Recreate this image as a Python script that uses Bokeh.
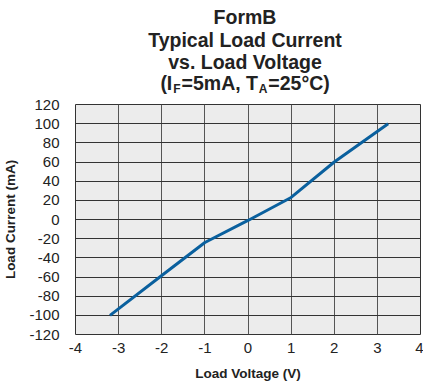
from bokeh.plotting import figure
from bokeh.models import Range1d, FixedTicker
from bokeh.layouts import column
from bokeh.core.properties import value
from bokeh.embed import file_html
from bokeh.resources import INLINE

# Load voltage (V) vs load current (mA)
voltage = [-3.2, -2.0, -1.0, 0.0, 1.0, 2.0, 3.25]
current = [-100, -58.5, -24, -1, 23, 60, 100]

x_ticks = [-4, -3, -2, -1, 0, 1, 2, 3, 4]
y_ticks = [-120, -100, -80, -60, -40, -20, 0, 20, 40, 60, 80, 100, 120]

FONT = "Liberation Sans"
W = 423
LEFT, RIGHT = 74, 3
HEAD_H = 96          # title strip
MAIN_H = 387 - HEAD_H
TITLE_PX = 19.5
SUB_PX = 12

# ---- title strip: a bare figure whose ranges are canvas pixels, y downwards
head = figure(width=W, height=HEAD_H, output_backend="svg", toolbar_location=None,
              x_range=Range1d(LEFT, W - RIGHT), y_range=Range1d(HEAD_H, 0),
              x_axis_location=None, y_axis_location=None,
              min_border_left=LEFT, min_border_right=RIGHT,
              min_border_top=0, min_border_bottom=0,
              outline_line_color=None)
head.grid.visible = False
head.background_fill_color = "white"
head.border_fill_color = "white"

def title_text(text, x, y, size=TITLE_PX, align="center"):
    head.text(x=[x], y=[y], text=[text], text_font=value(FONT),
              text_font_style="bold", text_font_size=f"{size}px",
              text_color="#222222", text_align=align, text_baseline="middle")

cx = 244
title_text("FormB", cx, 16)
title_text("Typical Load Current", cx, 39)
title_text("vs. Load Voltage", cx, 61)

# fourth line: runs of text with subscripts, laid out left to right
# using bold Helvetica/Arial advance widths (per 1000 em)
ADV = {"(": 333, ")": 333, "I": 278, "F": 611, "=": 584, "5": 556, "2": 556,
       "m": 889, "A": 722, ",": 278, " ": 278, "T": 611, "°": 400, "C": 722}
def run_width(s, size):
    return sum(ADV[c] for c in s) * size / 1000.0

runs = [("(I", TITLE_PX, 0), ("F", SUB_PX, 6), ("=5mA, T", TITLE_PX, 0),
        ("A", SUB_PX, 6), ("=25°C)", TITLE_PX, 0)]
gap = 1.0
total = sum(run_width(s, sz) for s, sz, _ in runs) + gap * (len(runs) - 1)
x = cx - total / 2
y4 = 82
for s, sz, dy in runs:
    title_text(s, x, y4 + dy, size=sz, align="left")
    x += run_width(s, sz) + gap

# ---- main chart
p = figure(width=W, height=MAIN_H, output_backend="svg", toolbar_location=None,
           x_range=Range1d(-4, 4), y_range=Range1d(-120, 120),
           min_border_left=LEFT, min_border_right=RIGHT,
           min_border_top=104 - HEAD_H, min_border_bottom=53)

p.border_fill_color = "white"
p.background_fill_color = "#ececec"
p.outline_line_color = "#333333"
p.outline_line_width = 1

p.xaxis.ticker = FixedTicker(ticks=x_ticks)
p.yaxis.ticker = FixedTicker(ticks=y_ticks)
p.xgrid.ticker = FixedTicker(ticks=x_ticks)
p.ygrid.ticker = FixedTicker(ticks=y_ticks)
# plain hyphen-minus for negative tick labels
p.xaxis.major_label_overrides = {t: str(t) for t in x_ticks}
p.yaxis.major_label_overrides = {t: str(t) for t in y_ticks}

for g in (p.xgrid, p.ygrid):
    g.grid_line_color = "#333333"
    g.grid_line_width = 1
    g.grid_line_alpha = 1.0
p.xgrid.grid_line_color = "#555555"

for ax in (p.xaxis, p.yaxis):
    ax.axis_line_color = None
    ax.major_tick_line_color = None
    ax.minor_tick_line_color = None
    ax.major_label_text_font = FONT
    ax.major_label_text_font_size = "15px"
    ax.major_label_text_color = "#222222"
    ax.axis_label_text_font = FONT
    ax.axis_label_text_font_style = "bold"
    ax.axis_label_text_font_size = "13.5px"
    ax.axis_label_text_color = "#222222"

p.xaxis.major_label_standoff = 2
p.yaxis.major_label_standoff = 10
p.xaxis.axis_label = "Load Voltage (V)"
p.yaxis.axis_label = "Load Current (mA)"
p.xaxis.axis_label_standoff = 10
p.yaxis.axis_label_standoff = 8

p.line(voltage, current, line_color="#0a609e", line_width=3)

layout = column(head, p, spacing=0)
open("out.html", "w").write(file_html(layout, INLINE))
